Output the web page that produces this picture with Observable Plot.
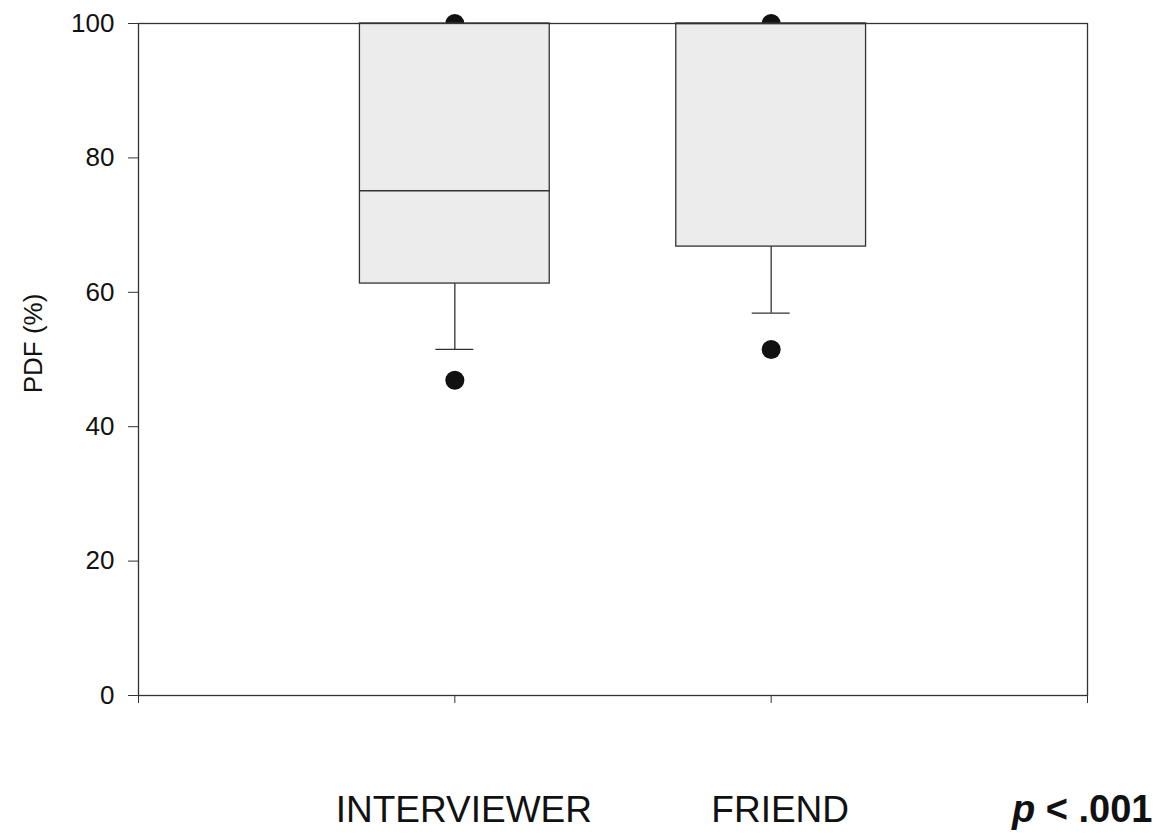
<!DOCTYPE html>
<html><head><meta charset="utf-8">
<script src="https://cdn.jsdelivr.net/npm/d3@7"></script>
<script src="https://cdn.jsdelivr.net/npm/@observablehq/plot@0.6"></script>
<style>
body{margin:0;background:#fff;font-family:"Liberation Sans",Arial,sans-serif;}
#wrap{position:relative;width:1156px;height:835px;}
#pval{position:absolute;left:1012px;top:790px;font-size:38px;line-height:1;font-weight:bold;color:#111;white-space:nowrap;}
</style></head><body><div id="wrap"></div>
<script>
// ---- data ----
const categories = ["INTERVIEWER", "FRIEND"];
const lowerWhisker = [51.5, 56.9];
const q1 = [61.3, 66.8];
const median = [75.1, 100];
const q3 = [100, 100];
const upperWhisker = [100, 100];
const outliers = [[100, 46.9], [100, 51.5]];
const yTicks = [0, 20, 40, 60, 80, 100];
const yLabel = "PDF (%)";
const pText = ["p", " < .001"];

// ---- tables ----
const boxes = categories.map((c, i) => ({
  cat: c, pos: i + 1,
  lw: lowerWhisker[i], q1: q1[i], med: median[i], q3: q3[i], uw: upperWhisker[i]
}));
const outlierRows = categories.flatMap((c, i) => outliers[i].map(v => ({cat: c, pos: i + 1, v})));

const HB = 0.3, HC = 0.06, INK = "#333";

const chart = Plot.plot({
  width: 1156, height: 835,
  marginTop: 23, marginBottom: 140, marginLeft: 138, marginRight: 69,
  style: {fontFamily: "'Liberation Sans', Arial, sans-serif", color: "#111", background: "#fff"},
  x: {domain: [0, categories.length + 1], axis: null},
  y: {domain: [0, 100], axis: null},
  marks: [
    Plot.dot(outlierRows, {x: "pos", y: "v", r: 9.5, fill: "#111", stroke: "none"}),
    Plot.ruleX(boxes, {x: "pos", y1: "lw", y2: "q1", stroke: INK, strokeWidth: 1.3}),
    Plot.ruleX(boxes, {x: "pos", y1: "q3", y2: "uw", stroke: INK, strokeWidth: 1.3}),
    Plot.ruleY(boxes, {y: "lw", x1: d => d.pos - HC, x2: d => d.pos + HC, stroke: INK, strokeWidth: 1.3}),
    Plot.rect(boxes, {x1: d => d.pos - HB, x2: d => d.pos + HB, y1: "q1", y2: "q3", fill: "#ececec", stroke: INK, strokeWidth: 1.3}),
    Plot.ruleY(boxes, {y: "med", x1: d => d.pos - HB, x2: d => d.pos + HB, stroke: INK, strokeWidth: 1.5}),
    Plot.frame({stroke: INK, strokeWidth: 1.3}),
    Plot.axisY({ticks: yTicks, tickSize: 10, tickPadding: 14, fontSize: 26, label: null, stroke: INK}),
    Plot.axisX({ticks: d3.range(0, categories.length + 2), tickSize: 8, tickFormat: () => "", label: null, stroke: INK}),
    Plot.axisX({ticks: categories.map((c, i) => i + 1), tickSize: 0, tickPadding: 100, dx: 9,
      tickFormat: v => categories[v - 1], fontSize: 37, label: null}),
    Plot.text([yLabel], {frameAnchor: "left", text: d => d, rotate: -90, dx: -105, dy: -16, fontSize: 26,
      textAnchor: "middle", lineAnchor: "middle", fill: "#111"})
  ]
});

const wrap = document.getElementById("wrap");
wrap.appendChild(chart);
const pv = document.createElement("div");
pv.id = "pval";
const it = document.createElement("i");
it.textContent = pText[0];
pv.appendChild(it);
pv.appendChild(document.createTextNode(pText[1]));
wrap.appendChild(pv);
</script>
</body></html>
